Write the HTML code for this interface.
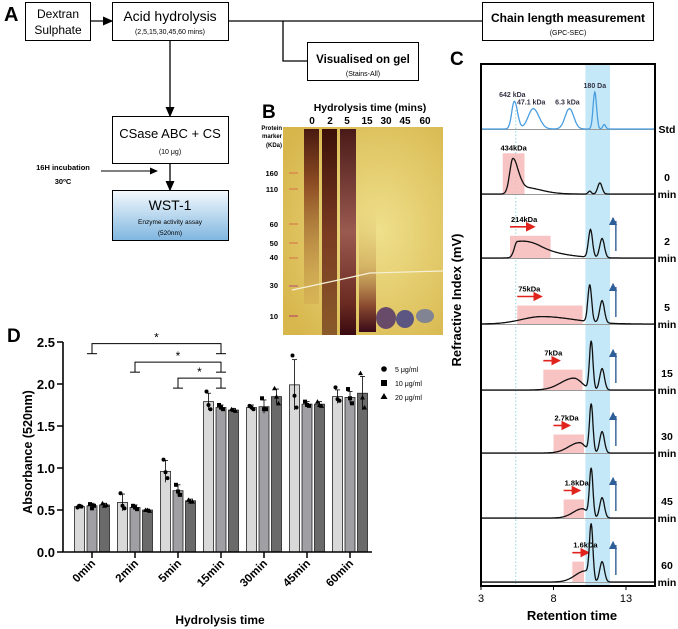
<!DOCTYPE html>
<html><head><meta charset="utf-8">
<style>
body{margin:0;background:#fff;font-family:"Liberation Sans",sans-serif;}
svg{display:block}
text{font-family:"Liberation Sans",sans-serif;}
</style></head>
<body>
<svg id="fig" width="678" height="629" viewBox="0 0 678 629" xmlns="http://www.w3.org/2000/svg">
<defs>
<marker id="ah" markerWidth="8" markerHeight="8" refX="7" refY="4" orient="auto"><path d="M0,0.5 L8,4 L0,7.5 z" fill="#000"/></marker>
<marker id="ahr" markerWidth="6" markerHeight="6" refX="5" refY="3" orient="auto"><path d="M0,0 L6,3 L0,6 z" fill="#e0231c"/></marker>
<marker id="ahb" markerWidth="6" markerHeight="6" refX="3" refY="5" orient="auto"><path d="M0,0 L6,3 L0,6 z" fill="#2f5f98"/></marker>
<linearGradient id="wst" x1="0" y1="0" x2="0" y2="1"><stop offset="0" stop-color="#f4f9fd"/><stop offset="1" stop-color="#7fb6e0"/></linearGradient>
<radialGradient id="gelbg" cx="0.6" cy="0.5" r="0.7"><stop offset="0" stop-color="#efe08c"/><stop offset="1" stop-color="#d7b64c"/></radialGradient>
<linearGradient id="l0" x1="0" y1="0" x2="0" y2="1"><stop offset="0" stop-color="#4a1a10"/><stop offset="0.3" stop-color="#8a4a22"/><stop offset="1" stop-color="#c99a48" stop-opacity="0.3"/></linearGradient>
<linearGradient id="l2" x1="0" y1="0" x2="0" y2="1"><stop offset="0" stop-color="#3a1008"/><stop offset="0.5" stop-color="#7a3a22"/><stop offset="1" stop-color="#8a5a2a"/></linearGradient>
<linearGradient id="l5" x1="0" y1="0" x2="0" y2="1"><stop offset="0" stop-color="#4a1a18"/><stop offset="0.5" stop-color="#9a5a50"/><stop offset="0.85" stop-color="#6a2a22"/><stop offset="1" stop-color="#3a0a10"/></linearGradient>
<linearGradient id="l15" x1="0" y1="0" x2="0" y2="1"><stop offset="0" stop-color="#e6cf7a" stop-opacity="0"/><stop offset="0.5" stop-color="#c8a058" stop-opacity="0.6"/><stop offset="0.8" stop-color="#8a4a30"/><stop offset="1" stop-color="#3a0a18"/></linearGradient>
</defs>

<!-- PANEL A -->
<g>
<text x="4" y="21" font-size="20" font-weight="bold">A</text>
<rect x="25.5" y="2.5" width="65" height="38" fill="#fff" stroke="#000"/>
<text x="58" y="18" font-size="12" text-anchor="middle">Dextran</text>
<text x="58" y="34" font-size="12" text-anchor="middle">Sulphate</text>
<line x1="91" y1="21" x2="112" y2="21" stroke="#000" stroke-width="1.3" marker-end="url(#ah)"/>
<rect x="112.5" y="2.5" width="116" height="38" fill="#fff" stroke="#000"/>
<text x="170" y="21" font-size="14" text-anchor="middle">Acid hydrolysis</text>
<text x="170" y="34" font-size="7" text-anchor="middle">(2,5,15,30,45,60 mins)</text>
<line x1="229" y1="21" x2="482" y2="21" stroke="#000" stroke-width="1.3"/>
<polyline points="283,21 283,61 307,61" fill="none" stroke="#000" stroke-width="1.3"/>
<rect x="307.5" y="42.5" width="111" height="38" fill="#fff" stroke="#000"/>
<text x="363" y="63" font-size="11.5" font-weight="bold" text-anchor="middle">Visualised on gel</text>
<text x="363" y="76" font-size="7" text-anchor="middle">(Stains-All)</text>
<rect x="482.5" y="2.5" width="171" height="38" fill="#fff" stroke="#000"/>
<text x="568" y="22" font-size="12" font-weight="bold" text-anchor="middle">Chain length measurement</text>
<text x="568" y="35" font-size="7" text-anchor="middle">(GPC-SEC)</text>
<line x1="170" y1="41" x2="170" y2="116" stroke="#000" stroke-width="1.3" marker-end="url(#ah)"/>
<rect x="112.5" y="116.5" width="116" height="47" fill="#fff" stroke="#000"/>
<text x="170" y="138" font-size="13" text-anchor="middle">CSase ABC + CS</text>
<text x="170" y="154" font-size="7" text-anchor="middle">(10 μg)</text>
<line x1="170" y1="164" x2="170" y2="190" stroke="#000" stroke-width="1.3" marker-end="url(#ah)"/>
<rect x="112.5" y="190.5" width="116" height="50" fill="url(#wst)" stroke="#000"/>
<text x="170" y="210" font-size="14" text-anchor="middle">WST-1</text>
<text x="170" y="224" font-size="6.5" text-anchor="middle">Enzyme activity assay</text>
<text x="170" y="235" font-size="6.5" text-anchor="middle">(520nm)</text>
<text x="63" y="170" font-size="7.5" font-weight="bold" text-anchor="middle">16H incubation</text>
<text x="63" y="184" font-size="7.5" font-weight="bold" text-anchor="middle">30ºC</text>
<line x1="101" y1="171" x2="157" y2="171" stroke="#000" stroke-width="1" marker-end="url(#ah)"/>
</g>

<!-- PANEL B -->
<g>
<text x="262" y="118" font-size="19" font-weight="bold">B</text>
<text x="370" y="111" font-size="10.5" font-weight="bold" text-anchor="middle">Hydrolysis time (mins)</text>
<g font-size="10" font-weight="bold" text-anchor="middle">
<text x="312" y="124">0</text><text x="330" y="124">2</text><text x="347" y="124">5</text><text x="367" y="124">15</text><text x="386" y="124">30</text><text x="405" y="124">45</text><text x="425" y="124">60</text>
</g>
<g font-size="6" font-weight="bold" text-anchor="end"><text x="282" y="130">Protein</text><text x="282" y="138">marker</text><text x="282" y="147">(KDa)</text></g>
<g font-size="7.5" font-weight="bold" text-anchor="end">
<text x="278" y="176">160</text><text x="278" y="192">110</text><text x="278" y="227">60</text><text x="278" y="246">50</text><text x="278" y="260">40</text><text x="278" y="288">30</text><text x="278" y="319">10</text>
</g>
<rect x="283" y="127" width="160" height="208" fill="url(#gelbg)"/>
<g stroke="#d88a50" stroke-width="1.5"><line x1="289" y1="173" x2="298" y2="173"/><line x1="289" y1="189" x2="298" y2="189"/><line x1="289" y1="224" x2="298" y2="224"/><line x1="289" y1="243" x2="298" y2="243"/><line x1="289" y1="258" x2="298" y2="258"/><line x1="289" y1="286" x2="298" y2="286" stroke="#c07070"/><line x1="289" y1="316" x2="298" y2="316" stroke="#c06060"/></g>
<rect x="304" y="129" width="15" height="175" fill="url(#l0)"/>
<rect x="322" y="129" width="15" height="206" fill="url(#l2)"/>
<rect x="340" y="129" width="16" height="206" fill="url(#l5)"/>
<rect x="359" y="200" width="17" height="132" fill="url(#l15)"/>
<ellipse cx="386" cy="318" rx="10" ry="11" fill="#4a2a6a" opacity="0.8"/>
<ellipse cx="405" cy="319" rx="9" ry="9" fill="#3a3a8a" opacity="0.8"/>
<ellipse cx="425" cy="316" rx="9" ry="7" fill="#5a6aa8" opacity="0.7"/>
<path d="M292,290 Q330,282 370,273 L443,271" stroke="#f6f0d8" stroke-width="1.2" fill="none"/>
</g>

<!-- PANEL C -->
<g id="panelC">
<text x="450" y="65" font-size="19" font-weight="bold">C</text>
<text transform="translate(461,300) rotate(-90)" font-size="13" font-weight="bold" text-anchor="middle">Refractive Index (mV)</text>
<text x="572" y="620" font-size="13" font-weight="bold" text-anchor="middle">Retention time</text>
</g>

<!-- PANEL D -->
<g id="panelD">
<text x="7" y="342" font-size="19" font-weight="bold">D</text>
<text transform="translate(32,452) rotate(-90)" font-size="12.5" font-weight="bold" text-anchor="middle">Absorbance (520nm)</text>
<text x="220" y="624" font-size="12" font-weight="bold" text-anchor="middle">Hydrolysis time</text>
</g>
</svg>
<script>
const NS="http://www.w3.org/2000/svg";
// ---------- Panel D data ----------
const dCategories=["0min","2min","5min","15min","30min","45min","60min"];
const dSeriesNames=["5 μg/ml","10 μg/ml","20 μg/ml"];
const d5=[0.54,0.59,0.96,1.79,1.72,1.99,1.85];
const d10=[0.55,0.53,0.73,1.72,1.73,1.76,1.84];
const d20=[0.56,0.50,0.61,1.69,1.85,1.76,1.89];
const e5=[0.02,0.10,0.13,0.10,0.03,0.30,0.08];
const e10=[0.03,0.03,0.07,0.03,0.08,0.03,0.07];
const e20=[0.02,0.01,0.02,0.02,0.09,0.03,0.20];
const p5=[[0.53,0.55,0.54],[0.70,0.55,0.52],[1.10,0.95,0.88],[1.91,1.75,1.70],[1.74,1.72,1.70],[2.34,1.86,1.72],[1.96,1.82,1.80]];
const p10=[[0.57,0.52,0.55],[0.55,0.53,0.51],[0.80,0.72,0.68],[1.75,1.72,1.70],[1.83,1.70,1.70],[1.79,1.75,1.74],[1.94,1.83,1.77]];
const p20=[[0.58,0.55,0.56],[0.50,0.50,0.49],[0.62,0.60,0.60],[1.70,1.69,1.68],[1.95,1.85,1.77],[1.79,1.75,1.74],[2.13,1.84,1.72]];
const dYTicks=[0,0.5,1.0,1.5,2.0,2.5];
const dYTickLabels=["0.0","0.5","1.0","1.5","2.0","2.5"];
const sigPairs=[[0,3,2.48],[1,3,2.26],[2,3,2.07]];

const dX0=63,dX1=372,dY0=552,dPer=84;
const dy=v=>dY0-v*dPer;
const dx=i=>92+i*43;
const colors=["#d9d9d9","#a0a0a4","#6a6a6a"];
const gD=document.getElementById('panelD');
function mk(tag,attrs,parent){const e=document.createElementNS(NS,tag);for(const k in attrs)e.setAttribute(k,attrs[k]);(parent||gD).appendChild(e);return e;}
const series=[d5,d10,d20],errs=[e5,e10,e20],pts=[p5,p10,p20];
dCategories.forEach((c,i)=>{
  series.forEach((s,j)=>{
    const cx=dx(i)+(j-1)*12.5;
    const b=mk('rect',{x:cx-5,y:dy(s[i]),width:10,height:dY0-dy(s[i]),fill:colors[j],stroke:"#222","stroke-width":0.8});
    
    
    const top=s[i]+errs[j][i],bot=s[i]-errs[j][i];
    mk('line',{x1:cx,x2:cx,y1:dy(top),y2:dy(bot),stroke:"#000","stroke-width":0.8});
    mk('line',{x1:cx-2.5,x2:cx+2.5,y1:dy(top),y2:dy(top),stroke:"#000","stroke-width":0.8});
    pts[j][i].forEach((v,k)=>{
      const px=cx+(k-1)*2;
      if(j===0) mk('circle',{cx:px,cy:dy(v),r:2,fill:"#000"});
      else if(j===1) mk('rect',{x:px-2,y:dy(v)-2,width:4,height:4,fill:"#000"});
      else mk('path',{d:`M${px},${dy(v)-2.5} l2.5,4.5 l-5,0 z`,fill:"#000"});
    });
  });
  mk('line',{x1:dx(i),x2:dx(i),y1:dY0,y2:dY0+6,stroke:"#000","stroke-width":1.5});
  const t=mk('text',{transform:`translate(${dx(i)+4},${dY0+12}) rotate(-45)`,"font-size":11.5,"font-weight":"bold","text-anchor":"end"});
  t.textContent=c;
  
  
});
mk('line',{x1:dX0,x2:dX1,y1:dY0,y2:dY0,stroke:"#000","stroke-width":1.6});
mk('line',{x1:dX0,x2:dX0,y1:dY0,y2:dy(2.5),stroke:"#000","stroke-width":1.6});
dYTicks.forEach((v,i)=>{
  mk('line',{x1:dX0-6,x2:dX0,y1:dy(v),y2:dy(v),stroke:"#000","stroke-width":1.5});
  const t=mk('text',{x:dX0-8,y:dy(v)+5,"font-size":13,"font-weight":"bold","text-anchor":"end"});
  t.textContent=dYTickLabels[i];
  
  
});
sigPairs.forEach(([a,b,v])=>{
  const y=dy(v),x1=dx(a),x2=dx(b);
  mk('polyline',{points:`${x1},${y+10} ${x1},${y} ${x2},${y} ${x2},${y+10}`,fill:"none",stroke:"#000","stroke-width":1});
  mk('line',{x1:x1-5,x2:x1+5,y1:y+10,y2:y+10,stroke:"#000","stroke-width":1});
  mk('line',{x1:x2-5,x2:x2+5,y1:y+10,y2:y+10,stroke:"#000","stroke-width":1});
  const s=mk('text',{x:(x1+x2)/2,y:y-2,"font-size":12,"text-anchor":"middle"});s.textContent="*";
  
  
});
dSeriesNames.forEach((n,j)=>{
  const y=372+j*14;
  if(j===0) mk('circle',{cx:384,cy:y-3,r:2.8,fill:"#000"});
  else if(j===1) mk('rect',{x:381,y:y-6,width:6,height:6,fill:"#000"});
  else mk('path',{d:`M384,${y-7} l3.5,6 l-7,0 z`,fill:"#000"});
  const t=mk('text',{x:395,y:y,"font-size":7});t.textContent=n;
  
  
});

// ---------- Panel C data ----------
const cRows=["Std","0 min","2 min","5 min","15 min","30 min","45 min","60 min"];
const cBaselines=[129,194,258,324,390,453,518,582];
// peaks per row: [center, height, leftWidth, rightWidth]
const cPeaks=[
 [[5.3,0.75,0.18,0.22],[6.6,0.55,0.35,0.4],[9.1,0.55,0.3,0.3],[10.85,1.0,0.12,0.12],[11.5,0.12,0.1,0.1]],
 [[5.2,0.95,0.22,0.35],[5.9,0.18,0.3,1.2],[10.5,0.08,0.1,0.1],[11.2,0.3,0.15,0.15]],
 [[5.5,0.42,0.2,1.2],[7.0,0.15,0.8,1.8],[10.55,0.75,0.14,0.14],[11.35,0.52,0.16,0.16]],
 [[7.2,0.2,1.4,2.2],[10.5,1.0,0.13,0.13],[11.35,0.6,0.16,0.16]],
 [[9.4,0.32,0.9,0.55],[10.6,1.3,0.12,0.12],[11.35,0.58,0.16,0.16]],
 [[9.8,0.28,0.75,0.4],[10.6,1.3,0.12,0.12],[11.35,0.58,0.16,0.16]],
 [[10.0,0.25,0.65,0.35],[10.6,1.3,0.12,0.12],[11.35,0.55,0.16,0.16]],
 [[10.2,0.3,0.7,0.25],[10.6,1.5,0.12,0.12],[11.35,0.55,0.16,0.16]]
];
const cMwLabels=["","434kDa","214kDa","75kDa","7kDa","2.7kDa","1.8kDa","1.6kDa"];
const cBoxX0=[0,4.5,5.0,5.5,7.3,8.0,8.7,9.3];
const cBoxX1=[0,6.0,7.8,10.0,10.0,10.1,10.1,10.1];
const cBoxH=[0,1.1,0.6,0.5,0.55,0.5,0.5,0.55];
const stdLabels=["642 kDa","47.1 kDa","6.3 kDa","180 Da"];
const stdLabelX=[5.3,6.6,9.1,10.85];
const cXTicks=[3,8,13];
const cX0=481,cX1=655,cPer=14.5,cScale=37,cTop=64,cBot=586;
const cx=v=>cX0+(v-3)*cPer;
const gC=document.getElementById('panelC');
function mc(tag,attrs){return mk(tag,attrs,gC);}
mc('rect',{x:cx(10.2),y:cTop,width:cx(11.9)-cx(10.2),height:cBot-cTop,fill:"#c4e8f7"});
mc('line',{x1:cx(5.4),x2:cx(5.4),y1:110,y2:cBot,stroke:"#7cc",'stroke-dasharray':"1.5,2","stroke-width":0.8});
function sig(x,p){let y=0;p.forEach(([c,h,l,r])=>{const w=x<c?l:r;y+=h*Math.exp(-0.5*((x-c)/w)**2);});return y;}
const xMax=3+(cX1-cX0)/cPer;
cRows.forEach((name,i)=>{
  const b=cBaselines[i];
  if(i>0){
    const bx=mc('rect',{x:cx(cBoxX0[i]),y:b-cBoxH[i]*cScale,width:cx(cBoxX1[i])-cx(cBoxX0[i]),height:cBoxH[i]*cScale,fill:"#f7b8b8",opacity:0.85});
    
    
    const tx=i===1?(cx(cBoxX0[i])+cx(cBoxX1[i]))/2:cx(cBoxX0[i])+1;
    const t=mc('text',{x:tx,y:b-cBoxH[i]*cScale-(i===1?3:14),"font-size":7.5,"font-weight":"bold","text-anchor":i===1?"middle":"start"});
    t.textContent=cMwLabels[i];
    
    
    if(i>1){
      const ay=b-cBoxH[i]*cScale-9;
      mc('line',{x1:cx(cBoxX0[i]),x2:cx(cBoxX0[i])+(i<4?24:16),y1:ay,y2:ay,stroke:"#e0231c","stroke-width":1.6,"marker-end":"url(#ahr)"});
      mc('line',{x1:cx(12.3),x2:cx(12.3),y1:b-7,y2:b-37,stroke:"#2f5f98","stroke-width":1.4,"marker-end":"url(#ahb)"});
    }
  }
  mc('line',{x1:cX0,x2:cX1,y1:b+0.5,y2:b+0.5,stroke:"#999","stroke-width":1});
  let d="";
  for(let x=3;x<=xMax;x+=0.04){const y=b-sig(x,cPeaks[i])*cScale;d+=(d?"L":"M")+cx(x).toFixed(1)+","+y.toFixed(1);}
  const pth=mc('path',{d:d,fill:"none",stroke:i===0?"#4a9ee0":"#111","stroke-width":1.3});
  
  
  const parts=name.split(' ');
  const l1=mc('text',{x:667,y:parts.length>1?b-13:b+4,"font-size":10.5,"font-weight":"bold","text-anchor":"middle"});l1.textContent=parts[0];
  
  
  if(parts[1]){const l2=mc('text',{x:667,y:b+4,"font-size":10.5,"font-weight":"bold","text-anchor":"middle"});l2.textContent=parts[1];}
});
stdLabels.forEach((s,k)=>{
  const t=mc('text',{x:cx(stdLabelX[k])-(k<3?2:0),y:cBaselines[0]-sig(stdLabelX[k],cPeaks[0])*cScale-4,"font-size":7,"font-weight":"bold","font-family":"Liberation Serif","text-anchor":"middle",fill:"#334"});
  t.textContent=s;
  
  
});
mc('rect',{x:cX0,y:cTop,width:cX1-cX0,height:cBot-cTop,fill:"none",stroke:"#000","stroke-width":2});
cXTicks.forEach(v=>{
  mc('line',{x1:cx(v),x2:cx(v),y1:cBot,y2:cBot+4,stroke:"#000"});
  const t=mc('text',{x:cx(v),y:602,"font-size":11,"text-anchor":"middle"});t.textContent=v;
  
  
});
</script>
</body></html>
